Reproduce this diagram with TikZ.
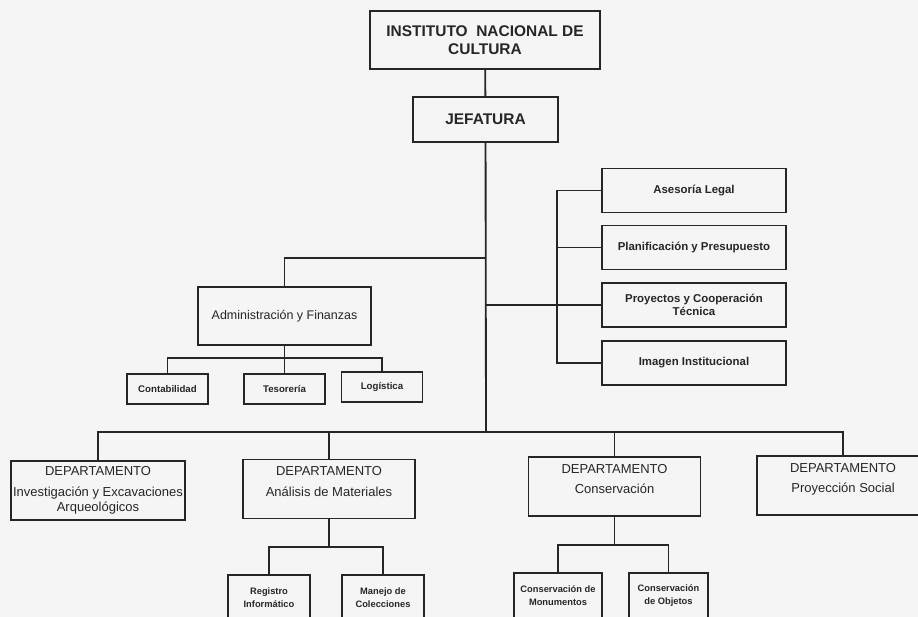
\documentclass[tikz,border=0pt]{standalone}
\usepackage{fontspec}
\setmainfont{Liberation Sans}
\usetikzlibrary{positioning}

\begin{document}
\begin{tikzpicture}[x=0.02cm,y=-0.02cm,line width=1.05pt,draw=black!85,text=black!85,
  unit/.style={draw,align=center,inner sep=1pt},
  head/.style={unit,font=\bfseries\fontsize{8.8}{10.4}\selectfont},
  staff/.style={unit,minimum width=3.68cm,minimum height=0.88cm,font=\bfseries\fontsize{6.5}{7.8}\selectfont},
  small/.style={unit,minimum width=1.62cm,minimum height=0.6cm,font=\bfseries\fontsize{5.5}{6.6}\selectfont},
  dept/.style={unit,minimum width=3.44cm,minimum height=1.18cm,font=\fontsize{7.4}{8.6}\selectfont},
  sub/.style={unit,minimum width=1.64cm,minimum height=0.92cm,font=\bfseries\fontsize{5.3}{7.4}\selectfont}]
\useasboundingbox (0,0) rectangle (918,617);
\clip (0,0) rectangle (918,617);
\fill[black!4] (0,0) rectangle (918,617);

% top
\node[head,minimum width=4.6cm,minimum height=1.16cm] (inc) at (485,40) {INSTITUTO\ \ NACIONAL DE\\CULTURA};
\node[head,minimum width=2.9cm,minimum height=0.9cm] (jef) at (485.5,119.5) {JEFATURA};

% staff units
\node[staff] (ase) at (694,190.5) {Asesoría Legal};
\node[staff] (pla) at (694,247.5) {Planificación y Presupuesto};
\node[staff] (pro) at (694,305) {Proyectos y Cooperación\\Técnica};
\node[staff] (ima) at (694,363) {Imagen Institucional};

% administration
\node[unit,minimum width=3.46cm,minimum height=1.16cm,font=\fontsize{7.1}{8.4}\selectfont] (adm) at (284.5,316) {Administración y Finanzas};
\node[small] (con) at (167.5,389) {Contabilidad};
\node[small] (tes) at (284.5,389) {Tesorería};
\node[small] (log) at (382,387) {Logística};

% departments
\node[dept] (dinv) at (98,490.5) {DEPARTAMENTO\\[3pt]Investigación y Excavaciones\\Arqueológicos};
\node[dept] (dana) at (329,489) {DEPARTAMENTO\\[3pt]Análisis de Materiales\\\mbox{}};
\node[dept] (dcon) at (614.5,486.5) {DEPARTAMENTO\\[3pt]Conservación\\\mbox{}};
\node[dept] (dpro) at (843,485.5) {DEPARTAMENTO\\[3pt]Proyección Social\\\mbox{}};

\node[sub] (reg) at (269,598) {Registro\\Informático};
\node[sub] (man) at (383,598) {Manejo de\\Colecciones};
\node[sub,minimum width=1.76cm] (cmon) at (558,596) {Conservación de\\Monumentos};
\node[sub,minimum width=1.58cm] (cobj) at (668.5,596) {Conservación\\de Objetos};

% connectors
\coordinate (admj) at (486,258);
\coordinate (bus) at (486,432);
\draw (inc) -- (jef);
\draw (jef) -- (bus);
\draw (admj) -| (adm);
\draw (jef.south |- pro.west) -- (pro.west);
\draw (ase.west) -- ++(-44,0) |- (ima.west);
\draw (pla.west) -- ++(-44,0);

\draw (adm) -- ++(0,42) coordinate (admb);
\draw (con) |- (admb) -| (log);
\draw (admb) -- (tes);

\draw (dinv) |- (bus) -| (dpro);
\draw (bus -| dana.north) -- (dana);
\draw (bus -| dcon.north) -- (dcon);

\draw (dana) -- ++(0,58) coordinate (danb);
\draw (reg) |- (danb) -| (man);
\draw (dcon) -- ++(0,58.5) coordinate (dcob);
\draw (cmon) |- (dcob) -| (cobj);
\end{tikzpicture}
\end{document}
